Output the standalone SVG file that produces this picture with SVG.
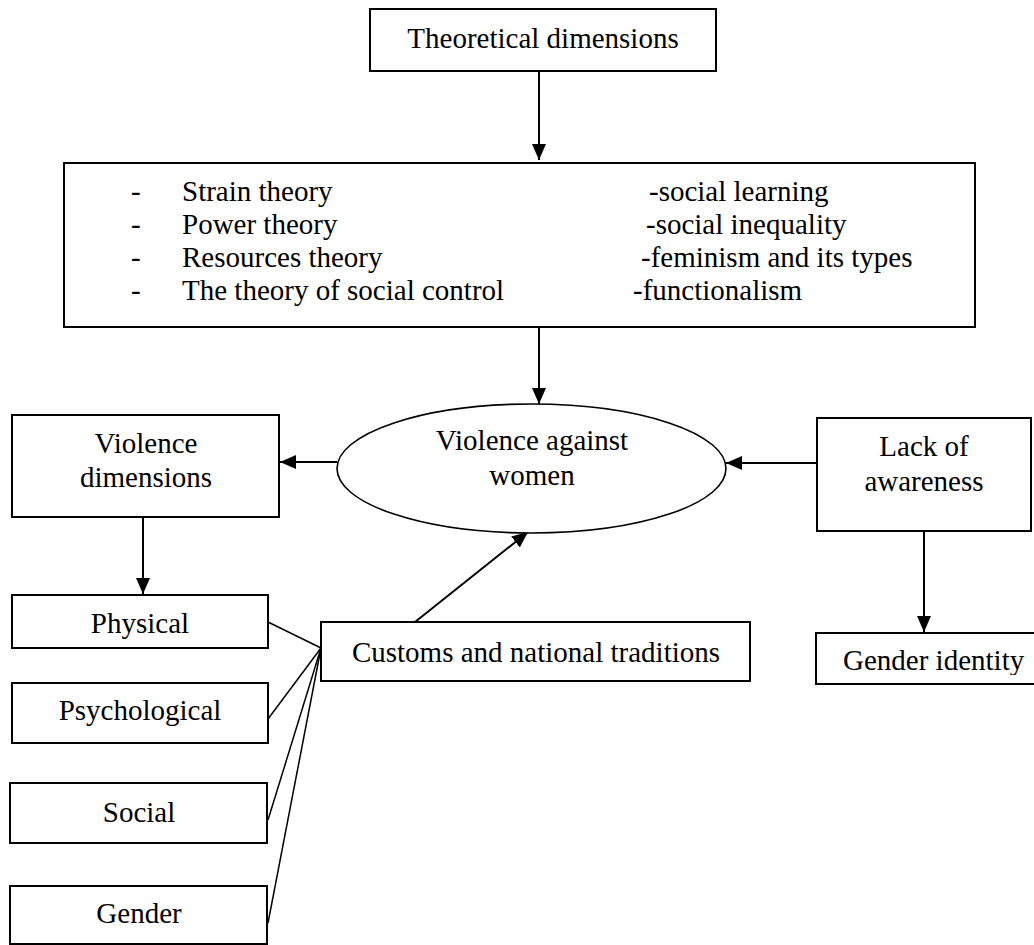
<svg xmlns="http://www.w3.org/2000/svg" width="1034" height="945" viewBox="0 0 1034 945">
<style>
  .box { fill: #ffffff; stroke: #000000; stroke-width: 2; }
  .ell { fill: #ffffff; stroke: #000000; stroke-width: 1.6; }
  text { font-family: "Liberation Serif", "Times New Roman", serif; font-size: 29px; fill: #000000; }
  .c { text-anchor: middle; }
  .arrow { stroke: #000000; stroke-width: 2; fill: none; marker-end: url(#ah); }
  .link { stroke: #000000; stroke-width: 1.5; fill: none; }
</style>
<defs>
  <marker id="ah" markerUnits="userSpaceOnUse" markerWidth="16" markerHeight="14" refX="16" refY="7" orient="auto">
    <path d="M0,0 L16,7 L0,14 Z" fill="#000000"/>
  </marker>
  <clipPath id="gclip">
    <rect x="816" y="633" width="218" height="42"/>
  </clipPath>
</defs>
<rect width="1034" height="945" fill="#ffffff"/>

<g id="connectors">
  <line class="arrow" x1="539" y1="71" x2="539" y2="160"/>
  <line class="arrow" x1="539" y1="327" x2="539" y2="404"/>
  <line class="arrow" x1="337" y1="462" x2="280" y2="462"/>
  <line class="arrow" x1="817" y1="463" x2="726" y2="463"/>
  <line class="arrow" x1="143" y1="517" x2="143" y2="594"/>
  <line class="arrow" x1="924" y1="531" x2="924" y2="632"/>
  <line class="arrow" x1="415" y1="622" x2="528" y2="532"/>
  <line class="link" x1="268" y1="622" x2="321" y2="648"/>
  <line class="link" x1="268" y1="719" x2="321" y2="648"/>
  <line class="link" x1="268" y1="820" x2="321" y2="648"/>
  <line class="link" x1="268" y1="923" x2="321" y2="648"/>
</g>

<g id="theoretical-dimensions">
  <rect class="box" x="370" y="9" width="346" height="62"/>
  <text class="c" x="543" y="48">Theoretical dimensions</text>
</g>

<g id="theories">
  <rect class="box" x="64" y="163" width="911" height="164"/>
  <text x="131" y="201">-</text>
  <text x="182" y="201">Strain theory</text>
  <text x="131" y="234">-</text>
  <text x="182" y="234">Power theory</text>
  <text x="131" y="267">-</text>
  <text x="182" y="267">Resources theory</text>
  <text x="131" y="300">-</text>
  <text x="182" y="300">The theory of social control</text>
  <text x="649" y="201">-social learning</text>
  <text x="646" y="234">-social inequality</text>
  <text x="641" y="267">-feminism and its types</text>
  <text x="633" y="300">-functionalism</text>
</g>

<g id="violence-against-women">
  <ellipse class="ell" cx="531.5" cy="468.5" rx="194.5" ry="64.5"/>
  <text class="c" x="532" y="450">Violence against</text>
  <text class="c" x="532" y="485">women</text>
</g>

<g id="violence-dimensions">
  <rect class="box" x="12" y="415" width="267" height="102"/>
  <text class="c" x="146" y="453">Violence</text>
  <text class="c" x="146" y="487">dimensions</text>
</g>

<g id="lack-of-awareness">
  <rect class="box" x="817" y="418" width="214" height="113"/>
  <text class="c" x="924" y="456">Lack of</text>
  <text class="c" x="924" y="491">awareness</text>
</g>

<g id="physical">
  <rect class="box" x="12" y="595" width="256" height="53"/>
  <text class="c" x="140" y="633">Physical</text>
</g>

<g id="psychological">
  <rect class="box" x="12" y="683" width="256" height="60"/>
  <text class="c" x="140" y="720">Psychological</text>
</g>

<g id="social">
  <rect class="box" x="10" y="783" width="257" height="60"/>
  <text class="c" x="139" y="822">Social</text>
</g>

<g id="gender">
  <rect class="box" x="10" y="886" width="257" height="58"/>
  <text class="c" x="139" y="923">Gender</text>
</g>

<g id="customs">
  <rect class="box" x="321" y="622" width="429" height="59"/>
  <text class="c" x="536" y="662">Customs and national traditions</text>
</g>

<g id="gender-identity">
  <rect class="box" x="816" y="633" width="230" height="51"/>
  <text x="843" y="670" clip-path="url(#gclip)">Gender identity</text>
</g>
</svg>
